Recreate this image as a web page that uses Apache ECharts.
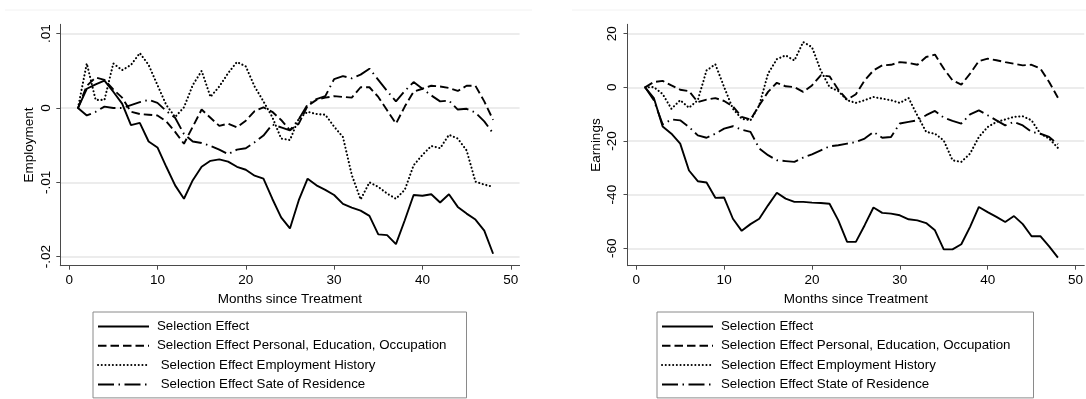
<!DOCTYPE html>
<html>
<head>
<meta charset="utf-8">
<script src="https://cdn.jsdelivr.net/npm/echarts@6/dist/echarts.min.js"></script>
<style>
html,body{margin:0;padding:0;background:#fff;}
#c{width:1086px;height:399px;}
</style>
</head>
<body>
<div id="c"></div>
<script>
// ---- data ----
const months = [1,2,3,4,5,6,7,8,9,10,11,12,13,14,15,16,17,18,19,20,21,22,23,24,25,26,27,28,29,30,31,32,33,34,35,36,37,38,39,40,41,42,43,44,45,46,47,48];

const empSel   = [0,0.0026,0.0032,0.0037,0.0022,0.0006,-0.0023,-0.002,-0.0045,-0.0053,-0.0079,-0.0104,-0.0122,-0.0097,-0.0079,-0.0071,-0.0069,-0.0072,-0.0079,-0.0083,-0.0091,-0.0095,-0.0122,-0.0147,-0.0162,-0.0124,-0.0095,-0.0104,-0.011,-0.0117,-0.0129,-0.0134,-0.0138,-0.0145,-0.017,-0.0171,-0.0183,-0.0151,-0.0117,-0.0118,-0.0116,-0.0127,-0.0116,-0.0133,-0.0142,-0.015,-0.0165,-0.0196];
const empPers  = [0,0.003,0.0041,0.0038,0.0025,0.0014,-0.0005,-0.0008,-0.0009,-0.001,-0.0018,-0.0032,-0.0048,-0.0025,-0.0002,-0.0013,-0.0024,-0.0021,-0.0026,-0.0017,-0.0004,0.0001,-0.0005,-0.0016,-0.003,-0.0021,0.0003,0.0011,0.0014,0.0016,0.0015,0.0014,0.0028,0.0028,0.0015,-0.0003,-0.0021,0.0002,0.0022,0.0026,0.003,0.0029,0.0027,0.0023,0.003,0.003,0.0009,-0.0016];
const empHist  = [0,0.006,0.0011,0.0011,0.006,0.0051,0.0058,0.0074,0.0058,0.0031,0.0004,-0.0012,0.0001,0.0031,0.005,0.0015,0.0029,0.0047,0.0062,0.0056,0.0029,0.0009,-0.0012,-0.0041,-0.0043,-0.0014,-0.0005,-0.0008,-0.0009,-0.0025,-0.0039,-0.009,-0.0123,-0.01,-0.0106,-0.0115,-0.0122,-0.011,-0.0077,-0.0063,-0.0051,-0.0054,-0.0036,-0.0041,-0.0057,-0.0099,-0.0103,-0.0106];
const empState = [0,-0.001,-0.0005,0.0002,0,0,0.0004,0.0008,0.0011,0.0007,-0.0004,-0.0013,-0.0035,-0.0045,-0.0047,-0.0051,-0.0056,-0.0062,-0.0056,-0.0054,-0.0046,-0.0037,-0.0022,-0.0026,-0.003,-0.0015,0.0005,0.0012,0.0016,0.0039,0.0043,0.004,0.0045,0.0053,0.0038,0.0023,0.0009,0.0023,0.0035,0.0026,0.0017,0.0009,0.001,-0.0002,-0.0001,-0.0006,-0.0018,-0.0034];

const earnSel   = [0,-4,-14.6,-17.3,-21,-31,-35,-35.5,-41.2,-41.1,-49,-53.5,-51,-49,-44,-39.3,-41.5,-42.7,-42.7,-43,-43.1,-43.4,-49.6,-57.6,-57.6,-51.4,-44.8,-46.8,-47.1,-47.7,-49.2,-49.6,-50.6,-53.3,-60.4,-60.4,-58.5,-52,-44.6,-46.5,-48.3,-50.2,-48,-51,-55.5,-55.5,-59.3,-63.5];
const earnPers  = [0,2,2.4,0.7,-0.9,-1.4,-5.5,-4.6,-4,-5.1,-7.1,-11,-12,-6.7,-1.7,1.7,0.4,0.1,-1.7,0.7,4.5,4.1,-0.9,-4.6,-2.6,2.6,6.3,8.2,8.4,9.4,9.1,8.4,11.3,12.2,7,2.6,1,5.1,9.8,10.7,10.1,9.4,8.8,8.2,8.4,7,2,-3.9];
const earnHist  = [0,0.1,-2.5,-8,-4.8,-7.6,-4.8,6.3,8.6,0.1,-8,-11.7,-12.3,-6.7,5.1,10.5,11.9,10,16.9,15,6.3,0.1,-1.4,-4.8,-5.8,-4.8,-3.6,-4.2,-4.8,-5.8,-4,-10.5,-16.6,-17.3,-19.8,-27.2,-27.8,-24.7,-18.5,-14.8,-12.9,-12,-11,-10.8,-12.3,-17.3,-19.1,-22.6];
const earnState = [0,-4.8,-13.8,-12,-12.3,-14.8,-17.9,-18.8,-17.3,-15.4,-14.5,-15.8,-16.6,-22.8,-25.3,-27.2,-27.5,-27.8,-26.2,-25,-23.5,-22,-21.6,-21,-20.4,-19.1,-16.6,-18.8,-18.5,-13.5,-12.9,-12.3,-10.4,-8.8,-11.3,-12.5,-13.5,-10.1,-8.6,-10.4,-12.3,-14.2,-12.9,-14.2,-16.6,-17.3,-18.5,-21.2];

const xTicks = [0,10,20,30,40,50];
const xTickLabels = ['0','10','20','30','40','50'];
const yTicksEmp = [-0.02,-0.01,0,0.01];
const yTickLabelsEmp = ['-.02','-.01','0','.01'];
const yTicksEarn = [-60,-40,-20,0,20];
const yTickLabelsEarn = ['-60','-40','-20','0','20'];

const namesLeft  = ['Selection Effect','Selection Effect Personal, Education, Occupation',' Selection Effect Employment History',' Selection Effect Sate of Residence'];
const namesRight = ['Selection Effect','Selection Effect Personal, Education, Occupation','Selection Effect Employment History','Selection Effect State of Residence'];
const xTitle = 'Months since Treatment';
const yTitleLeft = 'Employment';
const yTitleRight = 'Earnings';

// ---- styling ----
const FONT = '"Liberation Sans", Arial, sans-serif';
const styles = [
  {type:'solid', width:1.9, cap:'butt'},
  {type:[8.5,4], width:1.9, cap:'butt'},
  {type:[0.1,3.6], width:2.1, cap:'round'},
  {type:[16,4.5,1.5,4.5], width:1.9, cap:'butt'}
];
const axisColor = '#4a4a4a';

function pairs(vals){ return months.map((m,i)=>[m, vals[i]]); }

function xAxisCfg(gi){
  return {
    type:'value', gridIndex:gi, min:-1, max:51,
    name:xTitle, nameLocation:'middle', nameGap:22,
    nameTextStyle:{fontFamily:FONT,fontSize:13.5,color:'#000'},
    axisLine:{show:true,onZero:false,lineStyle:{color:axisColor,width:1}},
    axisTick:{show:true,length:4,lineStyle:{color:axisColor},customValues:xTicks},
    axisLabel:{fontFamily:FONT,fontSize:13.5,color:'#000',margin:8,customValues:xTicks,
      formatter:v=>xTickLabels[xTicks.indexOf(v)]},
    splitLine:{show:false}
  };
}
function yAxisCfg(gi,min,max,ticks,labels,title,margin){
  return {
    type:'value', gridIndex:gi, min:min, max:max,
    name:title, nameLocation:'middle', nameGap:24, nameRotate:90,
    nameTextStyle:{fontFamily:FONT,fontSize:13.5,color:'#000'},
    axisLine:{show:true,onZero:false,lineStyle:{color:axisColor,width:1}},
    axisTick:{show:true,length:4,lineStyle:{color:axisColor},customValues:ticks},
    axisLabel:{fontFamily:FONT,fontSize:13.5,color:'#000',margin:margin,rotate:90,customValues:ticks,
      formatter:v=>labels[ticks.indexOf(v)]},
    splitLine:{show:true,lineStyle:{color:'#e6e6e6',width:1.5}}
  };
}

const leftData = [empSel, empPers, empHist, empState];
const rightData = [earnSel, earnPers, earnHist, earnState];
const series = [];
function addSeries(d,i,name,gi){
  series.push({
    type:'line', name:name, xAxisIndex:gi, yAxisIndex:gi, data:pairs(d),
    symbol:'none', silent:true, animation:false, color:'#000',
    itemStyle:{color:'#000'},
    lineStyle:{color:'#000', width:styles[i].width, type:styles[i].type, cap:styles[i].cap}
  });
}
leftData.forEach((d,i)=>addSeries(d,i,namesLeft[i],0));
rightData.forEach((d,i)=>addSeries(d,i,namesRight[i],1));

function legendCfg(left,names,padRight){
  return {
    orient:'vertical', left:left, top:312, data:names,
    padding:[8,padRight,7,4], itemWidth:51, itemHeight:13, itemGap:6.3,
    borderColor:'#8a8a8a', borderWidth:1, selectedMode:false,
    itemStyle:{color:'rgba(0,0,0,0)', opacity:0, borderWidth:0},
    lineStyle:{color:'#000', opacity:1},
    textStyle:{fontFamily:FONT,fontSize:13.3,color:'#000',padding:[0,0,0,3]},
    inactiveColor:'#000'
  };
}

const chart = echarts.init(document.getElementById('c'), null, {renderer:'canvas'});
chart.setOption({
  animation:false,
  backgroundColor:'#fff',
  grid:[
    {left:60.3, top:24.3, width:459.3, height:241.4},
    {left:627.5, top:24.3, width:459.6, height:241.4}
  ],
  xAxis:[xAxisCfg(0), xAxisCfg(1)],
  yAxis:[
    yAxisCfg(0,-0.02121,0.01127,yTicksEmp,yTickLabelsEmp,yTitleLeft,7),
    yAxisCfg(1,-66.5,23.5,yTicksEarn,yTickLabelsEarn,yTitleRight,8)
  ],
  legend:[legendCfg(93,namesLeft,20), legendCfg(657,namesRight,23)],
  graphic:[
    {type:'line',shape:{x1:5,y1:10,x2:532,y2:10},style:{stroke:'#f2f2f2',lineWidth:1},silent:true},
    {type:'line',shape:{x1:572,y1:10,x2:1086,y2:10},style:{stroke:'#f2f2f2',lineWidth:1},silent:true}
  ],
  series:series
});
</script>
</body>
</html>
